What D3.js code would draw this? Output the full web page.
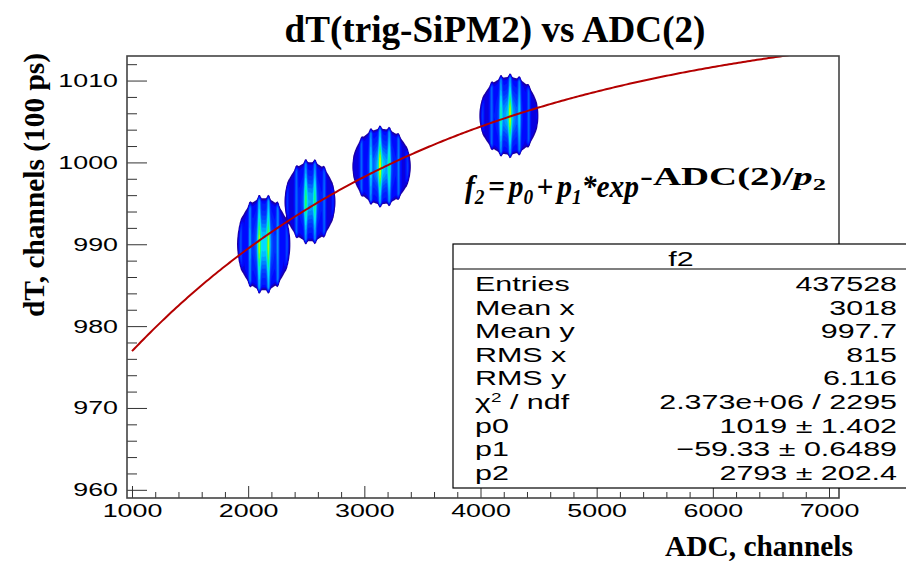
<!DOCTYPE html>
<html><head><meta charset="utf-8">
<script src="https://cdn.jsdelivr.net/npm/d3@7"></script>
<style>body{margin:0;background:#fff;overflow:hidden}</style>
</head><body>
<svg id="c" width="906" height="565"></svg>
<script>
// ---------------- data ----------------
const titleText = "dT(trig-SiPM2) vs ADC(2)";
const xTitleText = "ADC, channels";
const yTitleText = "dT, channels (100 ps)";
const xMajorTicks = [1000, 2000, 3000, 4000, 5000, 6000, 7000];
const yMajorTicks = [960, 970, 980, 990, 1000, 1010];
const xDomain = [957, 7086];
const yDomain = [959.0, 1013.0];

// drawn fit curve f2 = p0 + p1*exp(-ADC/p2)
const curveP0 = 1018.6, curveP1 = -59.6, curveP2 = 2793;
const curveXStart = 1000;

// 2D histogram clusters (ADC vs dT)
const blobCenterX = [2134, 2532, 3148, 4245];
const blobCenterY = [990.0, 995.2, 999.5, 1005.7];
const blobHalfX   = [232, 222, 255, 258];
const blobHalfY   = [5.8, 5.0, 4.75, 4.9];
const blobPeak    = [1.0, 0.86, 0.96, 0.92];
const adcBinPeriod = 80, adcBinOffset = 15;

// stats box
const statsTitle = "f2";
const statsLabels = ["Entries", "Mean x", "Mean y", "RMS x", "RMS y", "χ² / ndf", "p0", "p1", "p2"];
const statsValues = ["437528", "3018", "997.7", "815", "6.116", "2.373e+06 / 2295", "1019 ± 1.402", "\u221259.33 ± 0.6489", "2793 ± 202.4"];

// ---------------- layout ----------------
const fl = 127, fr = 839, ft = 56, fb = 498;
const SANS = "'Liberation Sans', Arial, sans-serif";
const SERIF = "'Liberation Serif', 'Times New Roman', serif";
const sansStretch = 1.45;

const svg = d3.select("#c");
const x = d3.scaleLinear().domain(xDomain).range([fl, fr]);
const y = d3.scaleLinear().domain(yDomain).range([fb, ft]);

svg.append("defs").append("clipPath").attr("id", "fc")
  .append("rect").attr("x", fl).attr("y", ft).attr("width", fr - fl).attr("height", fb - ft);

// ---------------- blobs (contour plot) ----------------
const gx0 = 1700, gx1 = 4700, gdx = 8;
const gy0 = 982, gy1 = 1013, gdy = 0.08;
const nx = Math.round((gx1 - gx0) / gdx) + 1, ny = Math.round((gy1 - gy0) / gdy) + 1;
function clusterValue(xv, yv) {
  let v = 0;
  for (let k = 0; k < blobCenterX.length; k++) {
    const s = Math.pow(Math.cos(Math.PI * (xv - adcBinOffset) / adcBinPeriod), 8);
    const u = (xv - blobCenterX[k]) / (blobHalfX[k] * (1 + 0.025 * (1 - s)));
    if (Math.abs(u) > 1.3) continue;
    const w = (yv - blobCenterY[k]) / (blobHalfY[k] * (1 + 0.08 * s));
    const r = Math.sqrt(u * u + w * w);
    let e = (1 - r) / 0.14; e = Math.max(0, Math.min(1, e)); e = e * e * (3 - 2 * e);
    const core = Math.exp(-(u * u / (2 * 0.24 * 0.24) + w * w / (2 * 0.42 * 0.42)));
    const taper = 1 - 0.45 * u * u;
    v += blobPeak[k] * e * (0.12 + 0.33 * s * taper * (1 - core) + core * (0.45 + 0.5 * s));
  }
  return v;
}
const grid = new Float64Array(nx * ny);
for (let j = 0; j < ny; j++) for (let i = 0; i < nx; i++)
  grid[j * nx + i] = clusterValue(gx0 + i * gdx, gy0 + j * gdy);

const thresholds = d3.range(20).map(i => 0.02 + i * 0.052);
const palStops = [0, 0.1, 0.28, 0.42, 0.56, 0.72, 0.86, 1.0, 1.12];
const palCols = ["#24008c", "#0000ff", "#0046ff", "#0096ff", "#00e6ff", "#00ff80", "#b0ff00", "#ffff00", "#ff9000"];
const pal = d3.scaleLinear().domain(palStops).range(palCols).interpolate(d3.interpolateRgb).clamp(true);

const contours = d3.contours().size([nx, ny]).thresholds(thresholds)(grid);
const proj = d3.geoTransform({ point(px, py) {
  this.stream.point(x(gx0 + (px - 0.5) * gdx), y(gy0 + (py - 0.5) * gdy));
}});
const path = d3.geoPath(proj);
svg.append("g").attr("clip-path", "url(#fc)")
  .selectAll("path").data(contours).join("path")
  .attr("d", path).attr("fill", d => pal(d.value)).attr("stroke", "none");

// ---------------- fit curve ----------------
const curveXs = d3.range(curveXStart, xDomain[1] + 1, 20);
const curvePts = curveXs.map(a => [a, curveP0 + curveP1 * Math.exp(-a / curveP2)]);
svg.append("path").attr("clip-path", "url(#fc)")
  .attr("d", d3.line().x(d => x(d[0])).y(d => y(d[1]))(curvePts))
  .attr("fill", "none").attr("stroke", "#b40000").attr("stroke-width", 2);

// ---------------- axes ----------------
const xMinor = d3.range(1000, 7001, 200).filter(v => !xMajorTicks.includes(v));
const yMinor = d3.range(960, 1013, 2).filter(v => !yMajorTicks.includes(v));

const axCol = "#333";
svg.append("g").attr("transform", `translate(0,${fb})`)
  .call(d3.axisBottom(x).tickValues(xMinor).tickSize(-6).tickSizeOuter(0).tickFormat(""))
  .call(g => g.select(".domain").remove())
  .call(g => g.selectAll("line").attr("stroke", axCol));
const gxa = svg.append("g").attr("transform", `translate(0,${fb})`)
  .call(d3.axisBottom(x).tickValues(xMajorTicks).tickSize(-12).tickSizeOuter(0).tickPadding(6).tickFormat(d3.format("d")))
  .call(g => g.select(".domain").remove());
gxa.selectAll("line").attr("stroke", axCol);
gxa.selectAll("text").attr("font-family", SANS).attr("font-size", 18.5).attr("fill", "#000")
  .attr("transform", `scale(${sansStretch},1)`);

svg.append("g").attr("transform", `translate(${fl},0)`)
  .call(d3.axisLeft(y).tickValues(yMinor).tickSize(-10).tickSizeOuter(0).tickFormat(""))
  .call(g => g.select(".domain").remove())
  .call(g => g.selectAll("line").attr("stroke", axCol));
const gya = svg.append("g").attr("transform", `translate(${fl},0)`)
  .call(d3.axisLeft(y).tickValues(yMajorTicks).tickSize(-20).tickSizeOuter(0).tickPadding(6.2).tickFormat(d3.format("d")))
  .call(g => g.select(".domain").remove());
gya.selectAll("line").attr("stroke", axCol);
gya.selectAll("text").attr("font-family", SANS).attr("font-size", 18.5).attr("fill", "#000")
  .attr("transform", `scale(${sansStretch},1)`);

// frame
svg.append("rect").attr("x", fl).attr("y", ft).attr("width", fr - fl).attr("height", fb - ft)
  .attr("fill", "none").attr("stroke", "#444").attr("stroke-width", 1.6);

// ---------------- titles ----------------
function fitText(sel, target) {
  sel.attr("textLength", target).attr("lengthAdjust", "spacingAndGlyphs");
}
const tt = svg.append("text").attr("x", 495).attr("y", 42).attr("text-anchor", "middle")
  .attr("font-family", SERIF).attr("font-weight", "bold").attr("font-size", 37).text(titleText);
fitText(tt, 421);

const xt = svg.append("text").attr("x", 853).attr("y", 556).attr("text-anchor", "end")
  .attr("font-family", SERIF).attr("font-weight", "bold").attr("font-size", 30).text(xTitleText);
fitText(xt, 188);

const yt = svg.append("text").attr("transform", "translate(44,53) rotate(-90)").attr("text-anchor", "end")
  .attr("font-family", SERIF).attr("font-weight", "bold").attr("font-size", 30).text(yTitleText);
fitText(yt, 264);

// ---------------- formula ----------------
function fitGroupWidth(sel, x0, width) {
  const bb = sel.node().getBBox();
  const sx = width / bb.width;
  sel.attr("transform", `translate(${x0},0) scale(${sx},1) translate(${-bb.x},0)`);
}
const fMain = svg.append("text").attr("x", 465).attr("y", 197)
  .attr("font-family", SERIF).attr("font-weight", "bold").attr("font-style", "italic").attr("font-size", 32);
[
  ["f", 32, 0, 0, "italic"], ["2", 21, 7, 0, "italic"], ["=", 32, -7, 4, "normal"],
  ["p", 32, 0, 4, "italic"], ["0", 21, 7, 0, "italic"], ["+", 32, -7, 4, "normal"],
  ["p", 32, 0, 4, "italic"], ["1", 21, 7, 0, "italic"], ["*exp", 32, -7, 0, "italic"]
].forEach(p => fMain.append("tspan").attr("font-size", p[1]).attr("dy", p[2]).attr("dx", p[3])
  .attr("font-style", p[4]).text(p[0]));
fitGroupWidth(fMain, 465, 174);

const fSup = svg.append("text").attr("x", 640).attr("y", 185)
  .attr("font-family", SERIF).attr("font-weight", "bold").attr("font-size", 25);
[
  ["-ADC(2)/", 25, 0, 0, "normal"], ["p", 25, 0, 0, "italic"], ["2", 17, 5, 0, "normal"]
].forEach(p => fSup.append("tspan").attr("font-size", p[1]).attr("dy", p[2]).attr("dx", p[3])
  .attr("font-style", p[4]).text(p[0]));
fitGroupWidth(fSup, 640, 186);

// ---------------- stats box ----------------
const bx = 453, by = 244, bw = 460, bh = 244;
const sg = svg.append("g");
sg.append("rect").attr("x", bx).attr("y", by).attr("width", bw).attr("height", bh)
  .attr("fill", "#fff").attr("stroke", "#000").attr("stroke-width", 1.2);
sg.append("line").attr("x1", bx).attr("x2", bx + bw).attr("y1", 269).attr("y2", 269)
  .attr("stroke", "#000").attr("stroke-width", 1.2);
function sText(tx, ty, anchor) {
  return sg.append("text").attr("transform", `translate(${tx},${ty}) scale(${sansStretch},1)`)
    .attr("text-anchor", anchor).attr("font-family", SANS).attr("font-size", 21).attr("fill", "#000");
}
sText(681, 266, "middle").text(statsTitle);
statsLabels.forEach((lab, i) => {
  const ty = 291 + i * 23.6;
  const t = sText(475, ty, "start");
  if (lab.startsWith("χ²")) {
    t.append("tspan").text("χ");
    t.append("tspan").attr("font-size", 13).attr("dy", -7).text("2");
    t.append("tspan").attr("dy", 7).text(" / ndf");
  } else t.text(lab);
  sText(897, ty, "end").text(statsValues[i]);
});
</script>
</body></html>
